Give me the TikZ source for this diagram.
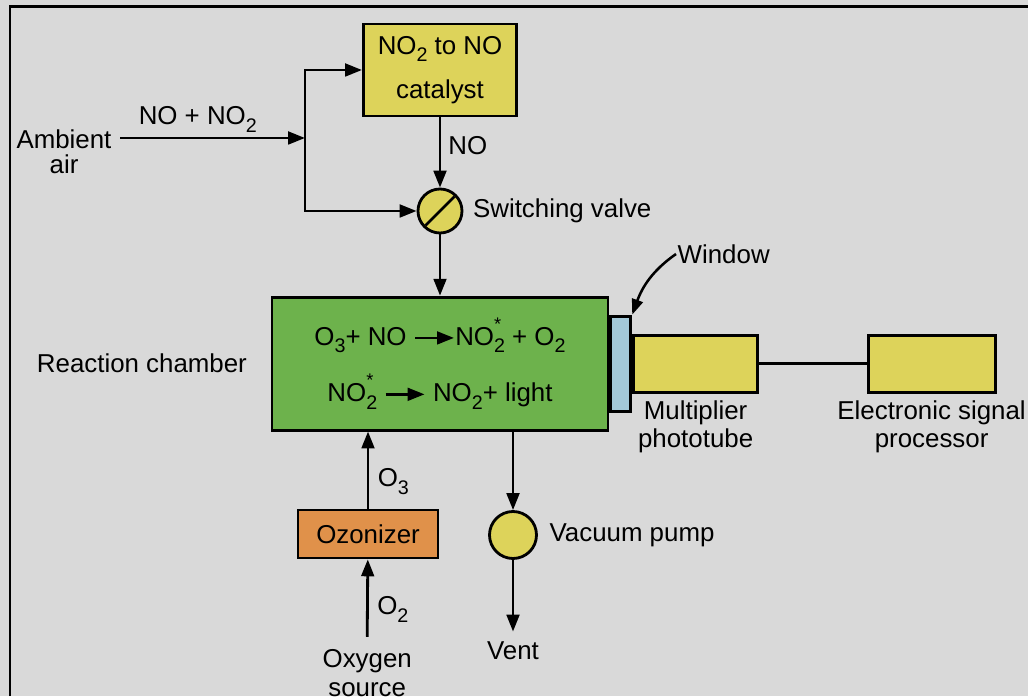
\documentclass[tikz,border=0pt]{standalone}
\usepackage{fontspec}
\setmainfont{Liberation Sans}
\usetikzlibrary{arrows.meta, positioning, calc}
\definecolor{PanelGrey}{HTML}{D9D9D9}
\definecolor{ChamberGreen}{HTML}{6DB24C}
\definecolor{BoxYellow}{HTML}{DDD35A}
\definecolor{OzoneOrange}{HTML}{E0914A}
\definecolor{WindowBlue}{HTML}{A3C8D8}
% chemistry subscripts, set low as in the drawing
\newcommand{\chsub}[1]{\raisebox{-0.55ex}{\fontsize{14}{14}\selectfont #1}}
% reaction arrow inside the chamber
\newcommand{\rxn}{\tikz[baseline=0pt]\draw[line width=1.9pt, -{Triangle[length=12pt, width=9pt]}] (0,0.55ex) -- (1.5em,0.55ex);}
\newcommand{\excited}{NO\rlap{\raisebox{1.1ex}{\fontsize{13}{13}\selectfont *}}\chsub{2}}

\begin{document}
\begin{tikzpicture}[
    font=\fontsize{18.4}{19.5}\selectfont,
    box/.style={draw=black, line width=2pt, align=center, inner sep=2pt},
    flow/.style={-{Triangle[length=12pt, width=9pt]}, line width=2pt},
    pipe/.style={line width=2pt},
    lbl/.style={align=center, inner sep=1pt},
]
\fill[PanelGrey] (0,0) rectangle (25.7,17.4);
\useasboundingbox (0,0) rectangle (25.7,17.4);
\draw[line width=2pt] (0.25,0) -- (0.25,17.24) -- (25.7,17.24);

% ================= inlet: catalyst and valve =================
\node[box, fill=BoxYellow, minimum width=3.83cm, minimum height=2.3cm] (cat) at (11.0,15.65)
    {NO\chsub{2} to NO\\[12pt]catalyst};
\node[circle, draw, line width=2pt, fill=BoxYellow, minimum size=1.1cm, inner sep=0] (valve) at (11.0,12.125) {};
\draw[pipe, shorten <=2pt, shorten >=2pt] (valve.225) -- (valve.45);
\node[lbl, right=0.2cm of valve] (vlbl) {Switching valve};

\node[lbl] (air) at (1.6,13.6) {Ambient\\[-2pt]air};
\coordinate (split) at (7.625,13.95);
\draw[flow] ([xshift=5pt]air.east |- split) -- node[above=2pt, lbl, pos=0.42] {NO + NO\chsub{2}} (split);
\draw[flow] (split) |- (cat.west);
\draw[flow] (split) |- (valve.west);
\draw[flow] (cat) -- node[right=4pt, lbl, pos=0.4] {NO} (valve);

% ================= reaction chamber and detector =================
\node[box, fill=ChamberGreen, minimum width=8.4cm, minimum height=3.325cm] (chamber) at (11.0,8.31)
    {O\chsub{3}+ NO \rxn\excited{} + O\chsub{2}\\[14pt]\excited{} \rxn{} NO\chsub{2}+ light};
\node[lbl, left=0.55cm of chamber] (chlbl) {Reaction chamber};
\draw[flow] (valve) -- (chamber);

\node[box, fill=WindowBlue, minimum width=0.5cm, minimum height=2.375cm, inner sep=0, anchor=west] (window) at (chamber.east) {};
\node[box, fill=BoxYellow, minimum width=3.1cm, minimum height=1.425cm, inner sep=0, anchor=west] (tube) at (window.east) {};
\node[box, fill=BoxYellow, minimum width=3.175cm, minimum height=1.425cm, inner sep=0] (esp) at (23.29,8.31) {};
\draw[pipe] (tube) -- (esp);
\node[lbl, below=0.15cm of tube] {Multiplier\\phototube};
\node[lbl, below=0.15cm of esp] {Electronic signal\\processor};
\node[lbl, anchor=west] (winlbl) at (16.9,11.05) {Window};
\draw[-{Triangle[length=11pt, width=8pt]}, line width=1.8pt] (winlbl.west) to[out=215, in=70] (window.north east);

% ================= ozone feed and exhaust =================
\node[box, fill=OzoneOrange, minimum width=3.5cm, minimum height=1.2cm] (ozon) at (9.2,4.05) {Ozonizer};
\draw[flow] (ozon.north) -- node[right=5pt, lbl, pos=0.35] {O\chsub{3}} (ozon.north |- chamber.south);
\node[lbl, anchor=north] (src) at (9.18,1.2) {Oxygen\\[1pt]source};
\draw[flow] ([yshift=8pt]src.north) -- node[right=5pt, lbl, pos=0.35] {O\chsub{2}} (ozon);

\node[circle, draw, line width=2pt, fill=BoxYellow, minimum size=1.175cm, inner sep=0] (pump) at (12.825,4.025) {};
\node[lbl, right=0.25cm of pump] (plbl) {Vacuum pump};
\draw[flow] (pump |- chamber.south) -- (pump);
\node[lbl, anchor=north] (vent) at (12.825,1.4) {Vent};
\draw[flow] (pump) -- ([yshift=6pt]vent.north);

\end{tikzpicture}
\end{document}
